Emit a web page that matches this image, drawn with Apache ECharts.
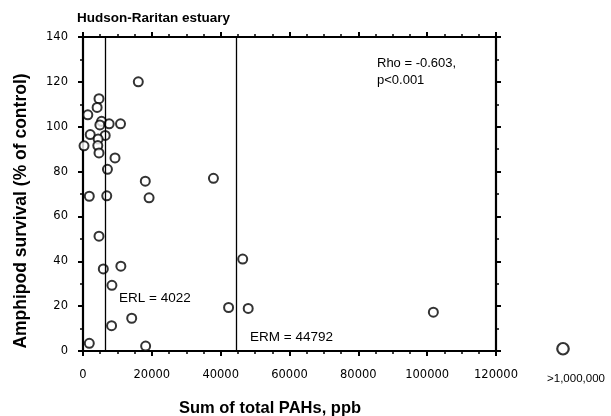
<!DOCTYPE html>
<html>
<head>
<meta charset="utf-8">
<script src="https://cdn.jsdelivr.net/npm/echarts@6/dist/echarts.min.js"></script>
<style>html,body{margin:0;padding:0;background:#fff}#c{width:611px;height:416px}</style>
</head>
<body>
<div id="c"></div>
<script>
// Data
var pahs = [16070, 4650, 4100, 1400, 5400, 4900, 7600, 10900, 2100, 6450, 4400, 4300, 4650, 9300, 7100,
            18100, 37900, 1830, 6900, 19200, 4650, 5900, 11000, 8400, 8300, 14150, 1830, 18200,
            46400, 42300, 48000, 101800, 300];
var survival = [120, 112.5, 108.6, 105.3, 102.4, 100.8, 101.3, 101.3, 96.5, 96.1, 94.5, 91.6, 88.3, 86.1, 81,
                75.7, 77, 69, 69.2, 68.3, 51.2, 36.6, 37.8, 29.3, 11.3, 14.6, 3.4, 2.2,
                41, 19.4, 19, 17.3, 91.5];
var outlierLabel = ['>1,000,000'];
var outlierSurvival = [1];
var erlLine = 6400;   // drawn position of ERL line
var ermLine = 44500;  // drawn position of ERM line
var xTicks = {min: 0, max: 120000, interval: 20000};
var yTicks = {min: 0, max: 140, interval: 20};
var titleText = 'Hudson-Raritan estuary';
var xName = 'Sum of total PAHs, ppb';
var yName = 'Amphipod survival (% of control)';
var rhoLines = ['Rho = -0.603,', 'p<0.001'];
var erlText = 'ERL = 4022';
var ermText = 'ERM = 44792';

var pts = pahs.map(function (v, i) { return [v, survival[i]]; });
var chart = echarts.init(document.getElementById('c'), null, {renderer: 'canvas'});
var black = '#000';
var tickFont = 'DejaVu Sans';
var textFont = 'Liberation Sans';

function xAx(pos, labels) {
  return {
    type: 'value', gridIndex: 0, position: pos,
    min: xTicks.min, max: xTicks.max, interval: xTicks.interval,
    axisLine: {show: true, onZero: false, lineStyle: {color: black, width: 2.2}},
    axisTick: {show: true, inside: false, length: 5, lineStyle: {color: black, width: 2}},
    minorTick: {show: true, splitNumber: 4, length: 3, lineStyle: {color: black, width: 1.5}},
    splitLine: {show: false},
    axisLabel: {show: labels, color: black, fontFamily: tickFont, fontSize: 11.5, margin: 18,
      formatter: function (v) { return String(v); }}
  };
}
function yAx(pos, labels) {
  return {
    type: 'value', gridIndex: 0, position: pos,
    min: yTicks.min, max: yTicks.max, interval: yTicks.interval,
    axisLine: {show: true, onZero: false, lineStyle: {color: black, width: 2.2}},
    axisTick: {show: true, inside: false, length: 5, lineStyle: {color: black, width: 2}},
    minorTick: {show: true, splitNumber: 2, length: 3, lineStyle: {color: black, width: 1.5}},
    splitLine: {show: false},
    axisLabel: {show: labels, color: black, fontFamily: tickFont, fontSize: 11.5, margin: 15}
  };
}

var option = {
  backgroundColor: '#fff',
  animation: false,
  grid: [
    {left: 83, right: 115, top: 37, bottom: 65, containLabel: false},
    {left: 540, width: 46, top: 37, bottom: 65, containLabel: false}
  ],
  xAxis: [
    xAx('bottom', true),
    xAx('top', false),
    {type: 'category', gridIndex: 1, data: outlierLabel,
     axisLine: {show: false}, axisTick: {show: false}, splitLine: {show: false},
     axisLabel: {color: black, fontFamily: textFont, fontSize: 11.5, margin: 22, padding: [0, 0, 0, 26]}}
  ],
  yAxis: [
    yAx('left', true),
    yAx('right', false),
    {type: 'value', gridIndex: 1, min: yTicks.min, max: yTicks.max, show: false}
  ],
  series: [
    {
      type: 'scatter', xAxisIndex: 0, yAxisIndex: 0, data: pts,
      symbol: 'circle', symbolSize: 9,
      itemStyle: {color: '#fff', borderColor: black, borderWidth: 2},
      markLine: {
        silent: true, symbol: ['none', 'none'], animation: false,
        label: {show: false},
        lineStyle: {color: black, width: 1.3, type: 'solid'},
        data: [{xAxis: erlLine}, {xAxis: ermLine}]
      },
      z: 3
    },
    {
      type: 'scatter', xAxisIndex: 2, yAxisIndex: 2,
      data: outlierSurvival.map(function (v, i) { return [i, v]; }),
      symbol: 'circle', symbolSize: 11.5,
      itemStyle: {color: '#fff', borderColor: black, borderWidth: 2.2},
      clip: false
    }
  ],
  graphic: [
    {type: 'text', x: 77, y: 18, style: {text: titleText, fill: black, verticalAlign: 'middle',
      font: 'bold 13.5px "Liberation Sans"'}},
    {type: 'text', x: 270, y: 408, style: {text: xName, fill: black, align: 'center', verticalAlign: 'middle',
      font: 'bold 16.5px "Liberation Sans"'}},
    {type: 'text', x: 21, y: 211, rotation: Math.PI / 2, style: {text: yName, fill: black,
      align: 'center', verticalAlign: 'middle', font: 'bold 17.5px "Liberation Sans"'}},
    {type: 'text', x: 377, y: 63, style: {text: rhoLines[0], fill: black, verticalAlign: 'middle',
      font: '13px "Liberation Sans"'}},
    {type: 'text', x: 377, y: 80, style: {text: rhoLines[1], fill: black, verticalAlign: 'middle',
      font: '13px "Liberation Sans"'}},
    {type: 'text', x: 119, y: 298, style: {text: erlText, fill: black, verticalAlign: 'middle',
      font: '13.5px "Liberation Sans"'}},
    {type: 'text', x: 250, y: 337, style: {text: ermText, fill: black, verticalAlign: 'middle',
      font: '13.5px "Liberation Sans"'}}
  ]
};
chart.setOption(option);
</script>
</body>
</html>
